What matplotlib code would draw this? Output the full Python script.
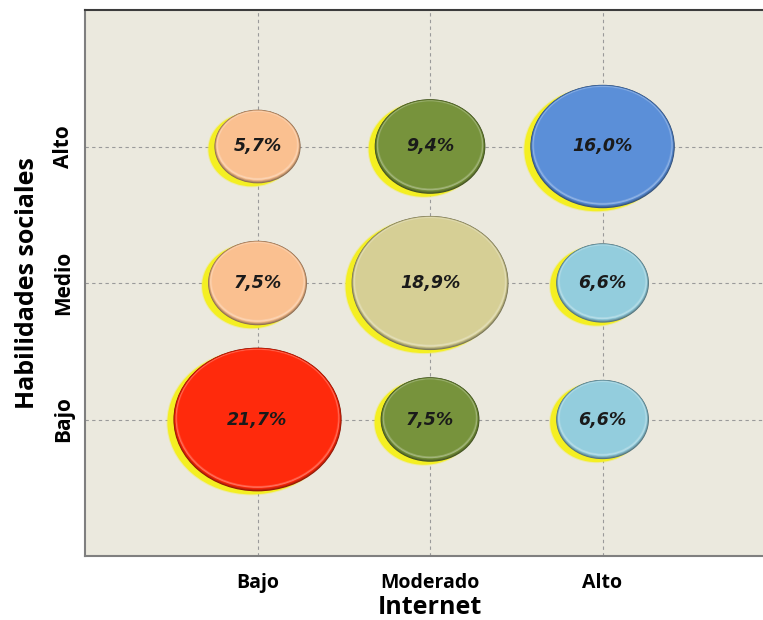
import numpy as np
import matplotlib.pyplot as plt
import matplotlib.colors as mcolors
from matplotlib.patches import Ellipse

# categories
internet_levels = ['Bajo', 'Moderado', 'Alto']
social_levels = ['Bajo', 'Medio', 'Alto']

# one bubble per cell: internet index, social index, percentage
x_idx = [1, 2, 3, 1, 2, 3, 1, 2, 3]
y_idx = [3, 3, 3, 2, 2, 2, 1, 1, 1]
values = [5.7, 9.4, 16.0, 7.5, 18.9, 6.6, 21.7, 7.5, 6.6]
colors = ['#fac090', '#77933c', '#5b8fd8',
          '#fac090', '#d6cf95', '#93cddd',
          '#ff2a0c', '#77933c', '#93cddd']

W, H = 763, 620
fig = plt.figure(figsize=(W / 100, H / 100), dpi=100)
ax = fig.add_axes([85 / W, 1 - 556 / H, 1 - 85 / W, 546 / H])
ax.set_facecolor('#ebe9de')
xmax, ymax = 3.93, 4.0
ax.set_xlim(0, xmax)
ax.set_ylim(0, ymax)

# pixels per data unit (to size bubbles by area, like Excel)
px_x = (W - 85) / xmax
px_y = 546 / ymax
k = 36.1      # bubble width in px per sqrt(%)
squash = 1.17  # picture is stretched horizontally


def mix(c, other, t):
    a = np.array(mcolors.to_rgb(c))
    b = np.array(mcolors.to_rgb(other))
    return tuple(a * (1 - t) + b * t)


def bubble(x, y, w, h, base):
    # yellow shadow, shifted left / down
    for grow, alpha in [(2, 0.3), (0, 1.0)]:
        ax.add_patch(Ellipse((x - 6 / px_x, y - 3 / px_y), (w + grow) / px_x, (h + grow) / px_y,
                             color='#f4ef22', alpha=alpha, lw=0, zorder=3))
    # bevel: dark rim, light upper rim, then body
    n = 10
    for i in range(n):
        t = i / (n - 1)
        shrink = 8 * t
        if t < 0.45:
            col = mix(base, 'black', 0.45 * (1 - t / 0.45))
        else:
            col = mix(base, 'white', 0.45 * (1 - t) / 0.55)
        dy = 2.0 * t
        ax.add_patch(Ellipse((x, y + dy / px_y), (w - shrink) / px_x, (h - shrink * 1.1) / px_y,
                             color=col, lw=0, zorder=4))
    ax.add_patch(Ellipse((x, y - 1 / px_y), (w - 11) / px_x, (h - 13) / px_y,
                         color=base, lw=0, zorder=4))


for x, y, v, c in zip(x_idx, y_idx, values, colors):
    w = k * np.sqrt(v)
    h = w / squash
    bubble(x, y, w, h, c)
    ax.text(x, y, f'{v:.1f}'.replace('.', ',') + '%', ha='center', va='center',
            fontsize=12.5, fontweight='bold', style='italic', color='#1a1a1a', zorder=6)

ax.set_xticks([1, 2, 3], internet_levels)
ax.set_yticks([1, 2, 3], social_levels)
for lab in ax.get_xticklabels():
    lab.set_fontfamily('Open Sans')
    lab.set_fontweight('bold')
    lab.set_fontsize(14)
for lab in ax.get_yticklabels():
    lab.set_fontfamily(['Liberation Sans Narrow', 'Open Sans'])
    lab.set_fontweight('bold')
    lab.set_fontsize(15)
    lab.set_rotation(90)
    lab.set_va('center')
ax.tick_params(length=0)
ax.tick_params(axis='x', pad=12)
ax.tick_params(axis='y', pad=8)

ax.grid(True, linestyle=(0, (3, 3)), color='#9a9a9a', lw=0.8)
ax.set_axisbelow(True)

ax.spines['right'].set_visible(False)
ax.spines['top'].set_color('#3c3c3c')
ax.spines['left'].set_color('#7f7f7f')
ax.spines['bottom'].set_color('#7f7f7f')
for s in ['top', 'left', 'bottom']:
    ax.spines[s].set_linewidth(1.5)

ax.set_xlabel('Internet', fontsize=18, fontweight='bold', fontfamily='Open Sans', labelpad=2)
ax.xaxis.label.set_x(2 / xmax)
ax.set_ylabel('Habilidades sociales', fontsize=18, fontweight='bold',
              fontfamily=['Liberation Sans Narrow', 'Open Sans'], labelpad=9)

fig.savefig('out.png', dpi=100)
